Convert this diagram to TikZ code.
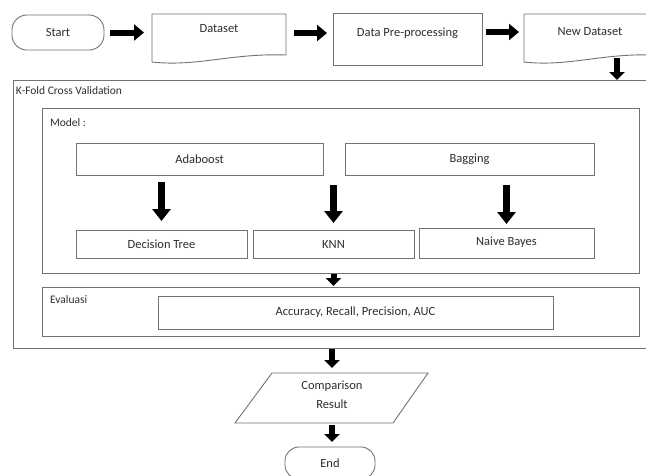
\documentclass[tikz,border=0pt]{standalone}
\usepackage{fontspec}
\setmainfont{Carlito}
\usetikzlibrary{arrows.meta,calc}
\definecolor{linegray}{gray}{0.45}
\definecolor{txt}{gray}{0.18}
\begin{document}
\begin{tikzpicture}[x=1pt,y=-1pt,
  box/.style={draw=linegray,line width=0.9pt,inner sep=0pt,outer sep=0pt,text=txt,font=\fontsize{12.5}{14}\selectfont},
  ghost/.style={inner sep=0pt,outer sep=0pt},
  shapeline/.style={draw=linegray,line width=0.9pt},
  tnode/.style={inner sep=0pt,outer sep=0pt,text=txt,font=\fontsize{12.5}{14}\selectfont},
  lbl/.style={inner sep=0pt,outer sep=0pt,anchor=west,text=txt,font=\fontsize{11.5}{13}\selectfont},
  blkh/.style={line width=6pt,-{Triangle[length=10pt,width=16pt]}},
  blkv/.style={line width=7pt,-{Triangle[length=12pt,width=18pt]}},
  blks/.style={line width=6pt,-{Triangle[length=8pt,width=15pt]}},
]
\useasboundingbox (0,0) rectangle (646,475);
\fill[white] (0,0) rectangle (646,475);

% top row
\node[box,rounded corners=15pt,minimum width=92pt,minimum height=35pt] (start) at (58,32.5) {Start};

\node[ghost,minimum width=134pt,minimum height=48pt] (dataset) at (219,38) {};
\draw[shapeline] ([yshift=7pt]dataset.south east) -- (dataset.north east) -- (dataset.north west) -- (dataset.south west)
  .. controls ($(dataset.south west)+(45pt,-5pt)$) and ($(dataset.south east)+(-55pt,9pt)$) .. ([yshift=7pt]dataset.south east);
\node[tnode] (datasettxt) at (219,29) {Dataset};

\node[box,minimum width=149pt,minimum height=52pt] (prep) at (407.5,39) {};
\node[tnode] (preptxt) at (407.5,33) {Data Pre-processing};

\node[ghost,minimum width=132pt,minimum height=48pt] (newds) at (590,38) {};
\draw[shapeline] ([yshift=7pt]newds.south east) -- (newds.north east) -- (newds.north west) -- (newds.south west)
  .. controls ($(newds.south west)+(45pt,-5pt)$) and ($(newds.south east)+(-55pt,9pt)$) .. ([yshift=7pt]newds.south east);
\node[tnode] (newdstxt) at (590,32) {New Dataset};

% containers
\node[box,minimum width=643pt,minimum height=268pt] (kfold) at (334.5,214) {};
\node[lbl] (kfoldlbl) at (16,91) {K-Fold Cross Validation};

\node[box,minimum width=597pt,minimum height=165pt] (model) at (340.5,190.5) {};
\node[lbl] (modellbl) at (50,123) {Model :};

\node[box,minimum width=247pt,minimum height=32pt] (ada) at (199.5,159) {Adaboost};
\node[box,minimum width=249pt,minimum height=32pt] (bag) at (469.5,159) {Bagging};
\node[box,minimum width=171pt,minimum height=28pt] (dt) at (161.5,244) {Decision Tree};
\node[box,minimum width=161pt,minimum height=28pt] (knn) at (333.5,244) {KNN};
\node[box,minimum width=175pt,minimum height=30pt,text depth=4pt] (nb) at (506.5,243) {Naive Bayes};

\node[box,minimum width=597pt,minimum height=49pt] (eval) at (340.5,311.5) {};
\node[lbl] (evallbl) at (50,300) {Evaluasi};
\node[box,minimum width=395pt,minimum height=33pt] (acc) at (355.5,312.5) {Accuracy, Recall, Precision, AUC};

% comparison result
\node[ghost,minimum width=193pt,minimum height=50pt] (cmp) at (331.5,398) {};
\draw[shapeline] ([xshift=37pt]cmp.north west) -- (cmp.north east) -- ([xshift=-35pt]cmp.south east) -- (cmp.south west) -- cycle;
\node[tnode,align=center,font=\fontsize{12.5}{19}\selectfont] (cmptxt) at (332,395) {Comparison\\Result};

\node[box,rounded corners=14pt,minimum width=90pt,minimum height=32pt] (end) at (330,463) {End};

% connectors
\draw[blkh] ([xshift=6pt]start.east) -- ([xshift=-8pt]start.east -| dataset.west);
\draw[blkh] ([xshift=8pt]dataset.east |- preptxt) -- ([xshift=-6pt]preptxt -| prep.west);
\draw[blkh] ([xshift=4pt]prep.east |- newdstxt) -- ([xshift=-5pt]newdstxt -| newds.west);
\coordinate (ndout) at (617,58);
\draw[blks] (ndout) -- (ndout |- kfold.north);

\draw[blkv] ([yshift=-7pt]ada.south -| dt.north) -- ([yshift=9pt]dt.north);
\draw[blkv] ([yshift=-10pt]ada.south -| knn.north) -- ([yshift=7pt]knn.north);
\draw[blkv] ([yshift=-10pt]bag.south -| nb.north) -- ([yshift=4pt]nb.north);

\draw[blks] ([yshift=-1pt]model.south -| knn.south) -- ([yshift=1pt]eval.north -| knn.south);
\draw[blks] ([yshift=-1pt]kfold.south -| cmptxt.north) -- ([yshift=5pt]cmptxt.north |- cmp.north);
\draw[blks] ([yshift=-2pt]cmp.south -| cmptxt.south) -- ([yshift=5pt]end.north -| cmptxt.south);
\end{tikzpicture}
\end{document}
